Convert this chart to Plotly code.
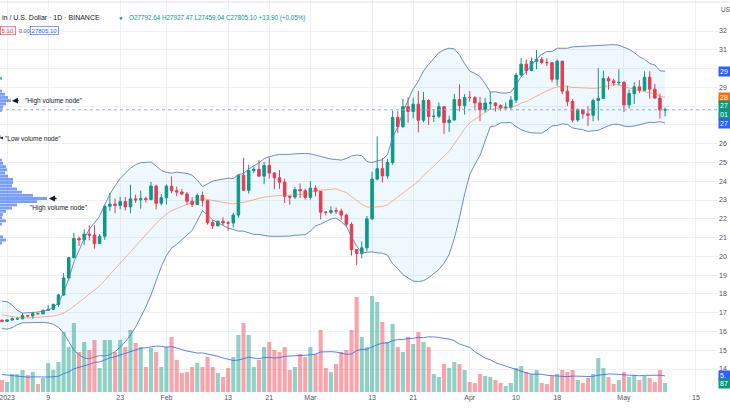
import pandas as pd
import plotly.graph_objects as go

GREEN = "#089981"
RED = "#f23645"
BLUE = "#2962ff"
ORANGE = "#ff6d00"
GRID = "#eef0f5"
TEXT = "#131722"

# daily candles, 2022-12-31 .. 2023-05-09
dates = pd.date_range("2022-12-31", "2023-05-09", freq="D")

open_ = [
    16603,
    16542, 16616, 16673, 16675, 16850, 16831, 16950, 16943, 17127, 17178, 17440, 17943, 18847, 19930, 20955, 20880,
    21185, 21133, 20677, 21072, 22667, 22783, 22707, 22917, 22633, 23061, 23009, 23074, 23027, 23743, 22827,
    23125, 23733, 23492, 23431, 23326, 22932, 22762, 23240, 22963, 21797, 21625, 21862, 21783, 21773, 22199, 24324,
    23517, 24569, 24631, 24271, 24837, 24439, 24188, 23947, 23199, 23157, 23554, 23492,
    23141, 23628, 23465, 22354, 22346, 22430, 22410, 22197, 21705, 20362, 20150, 20455, 21997, 24113, 24670, 24285,
    24998, 27395, 26907, 27972, 27717, 28105, 27250, 28295, 27454, 27462, 27968, 27124, 27261, 28348, 28028,
    28465, 28452, 28171, 27800, 28165, 28170, 28033, 27906, 27938, 28323, 29652, 30235, 29895, 30384, 30485, 30318,
    30316, 29431, 30390, 28796, 28243, 27262, 27816, 27590, 27514, 28300, 28415, 29473, 29340, 29248,
    29268, 28068, 28669, 29026, 28845, 29534, 28904, 28430, 27792.64,
]
high = [
    16628,
    16630, 16760, 16778, 16990, 16884, 17041, 16975, 17176, 17398, 17490, 18000, 19117, 19964, 21258, 21050, 21439,
    21650, 21650, 21190, 22755, 23372, 23078, 23165, 23162, 23816, 23290, 23500, 23180, 23960, 23812, 23320,
    23812, 24255, 23715, 23587, 23433, 23158, 23350, 23452, 23011, 21938, 21906, 22090, 21899, 22322, 24380, 25250,
    24873, 24750, 25121, 25020, 25250, 24476, 24600, 24132, 23218, 23689, 23880, 23600,
    24000, 23780, 23476, 22410, 22662, 22600, 22534, 22270, 21813, 20367, 20800, 22150, 24500, 26386, 25250, 25190,
    27756, 27724, 28390, 28472, 28439, 28804, 28752, 28374, 27787, 28194, 27982, 27499, 28650, 29160, 28640,
    28800, 28530, 28494, 28444, 28775, 28189, 28100, 28180, 28530, 29770, 30550, 30486, 30595, 31000, 30620,
    30550, 30320, 30485, 30412, 29090, 28371, 27877, 27820, 28000, 28400, 30020, 29890, 29590, 29463, 29960,
    29330, 28880, 29270, 29380, 29850, 29850, 29180, 28664, 27927.47,
]
low = [
    16498,
    16500, 16572, 16605, 16650, 16753, 16679, 16908, 16911, 17104, 17142, 17320, 17892, 18708, 19888, 20552, 20610,
    20850, 20407, 20659, 20880, 22422, 22293, 22500, 22462, 22300, 22850, 22534, 22865, 22982, 22500, 22714,
    22760, 23363, 23204, 23253, 22745, 22628, 22745, 22665, 21688, 21451, 21599, 21630, 21352, 21532, 22047, 23505,
    23339, 24430, 24266, 23840, 24150, 23574, 23600, 22841, 22755, 23060, 23105, 23020,
    23020, 23195, 21971, 22180, 22250, 22256, 21927, 21580, 20042, 19549, 19895, 20270, 21918, 24048, 23930, 24123,
    24880, 26578, 26827, 27124, 27350, 26601, 27143, 27000, 27158, 27370, 26508, 26631, 27240, 27720, 27549,
    28239, 27860, 27203, 27662, 27806, 27711, 27766, 27862, 27800, 28170, 29590, 29666, 29880, 29966, 30230,
    30120, 29270, 29090, 28634, 28010, 27125, 27166, 27330, 26942, 27200, 27235, 28375, 28880, 29080, 29100,
    27680, 27870, 28120, 28700, 28800, 28400, 28390, 27341, 27459.04,
]
close = [
    16542,
    16616, 16673, 16675, 16850, 16831, 16950, 16943, 17127, 17178, 17440, 17943, 18847, 19930, 20955, 20880, 21185,
    21133, 20677, 21072, 22667, 22783, 22707, 22917, 22633, 23061, 23009, 23074, 23027, 23743, 22827, 23125,
    23733, 23492, 23431, 23326, 22932, 22762, 23240, 22963, 21797, 21625, 21862, 21783, 21773, 22199, 24324, 23517,
    24569, 24631, 24271, 24837, 24439, 24188, 23947, 23199, 23157, 23554, 23492, 23141,
    23628, 23465, 22354, 22346, 22430, 22410, 22197, 21705, 20362, 20150, 20455, 21997, 24113, 24670, 24285, 24998,
    27395, 26907, 27972, 27717, 28105, 27250, 28295, 27454, 27462, 27968, 27124, 27261, 28348, 28028, 28465,
    28452, 28171, 27800, 28165, 28170, 28033, 27906, 27938, 28323, 29652, 30235, 29895, 30384, 30485, 30318,
    30316, 29431, 30390, 28796, 28243, 27262, 27816, 27590, 27514, 28300, 28415, 29473, 29340, 29248, 29268,
    28068, 28669, 29026, 28845, 29534, 28904, 28430, 27791.2, 27805.10,
]
# volume in thousands
volume = [
    12,
    10, 18, 18, 22, 17, 20, 8, 14, 29, 22, 30, 60, 45, 69, 40, 50, 42, 52, 24, 52, 52, 40, 52, 45, 62, 49, 45,
    25, 44, 40, 25,
    45, 55, 32, 19, 20, 25, 29, 25, 35, 25, 19, 15, 24, 35, 57, 69, 57, 25, 32, 45, 50, 42, 40, 45, 22, 25, 38, 35,
    45, 38, 62, 24, 20, 28, 40, 42, 62, 95, 55, 45, 96, 90, 70, 50, 68, 45, 40, 55, 48, 60, 50, 45, 18, 15, 28,
    24, 30, 28, 22,
    10, 9, 18, 16, 15, 12, 9, 6, 9, 24, 26, 20, 18, 22, 9, 8, 16, 18, 22, 20, 22, 12, 9, 14, 18, 34, 24, 15, 8, 12,
    20, 15, 17, 12, 16, 14, 10, 22, 9,
]
# 19 sessions before the first visible candle, only used to seed the 20-day indicators
warmup_close = [17100, 17780, 17815, 17365, 16630, 16780, 16740, 16440, 16900, 16825,
                16830, 16780, 16840, 16835, 16920, 16710, 16550, 16630, 16605]
warmup_volume = [22, 30, 32, 28, 26, 14, 12, 20, 22, 18, 17, 10, 8, 9, 12, 15, 16, 13, 14]

# visible range volume profile (price row, volume)
vp_price = [29480, 28800, 28630, 28460, 28290, 28120, 27950, 27780, 26360,
            25120, 24950, 24780, 24610, 24440, 24270, 24100, 23930, 23760, 23590, 23420, 23250,
            23080, 22910, 22740, 22570, 22400, 22230, 22060, 21890, 21720, 21040, 20870, 20700]
vp_volume = [2, 2, 5, 8, 11, 6, 3, 2, 1,
             2, 3, 6, 7, 5, 8, 13, 13, 12, 17, 22, 33,
             47, 37, 17, 12, 6, 3, 2, 6, 2, 3, 6, 2]

tick_dates = ["2023-01-01", "2023-01-09", "2023-01-23", "2023-02-01", "2023-02-13", "2023-02-21",
              "2023-03-01", "2023-03-13", "2023-03-21", "2023-04-01", "2023-04-10", "2023-04-18",
              "2023-05-01", "2023-05-15"]
tick_text = ["2023", "9", "23", "Feb", "13", "21", "Mar", "13", "21", "Apr", "10", "18", "May", "15"]
price_ticks = list(range(14000, 33000, 1000))
# the screenshot cuts the price scale after two digits; 27k/28k/30k sit under the value flags
hidden_ticks = {27000, 28000, 30000}
price_text = ["" if v in hidden_ticks else str(v // 1000) for v in price_ticks]

# Bollinger Bands (20, 2) and volume SMA 20
n_warm = len(warmup_close)
closes_all = pd.Series(warmup_close + close)
basis = closes_all.rolling(20).mean()
dev = closes_all.rolling(20).std(ddof=0)
upper = (basis + 2 * dev).iloc[n_warm:].values
lower = (basis - 2 * dev).iloc[n_warm:].values
basis = basis.iloc[n_warm:].values
vol_ma = pd.Series(warmup_volume + volume).rolling(20).mean().iloc[n_warm:].values

PLOT_W, PLOT_H = 718, 392


def py(ypx):
    return (PLOT_H - ypx) / PLOT_H


fig = go.Figure()

vol_colors = ["rgba(8,153,129,0.45)" if c >= o else "rgba(242,54,69,0.45)" for o, c in zip(open_, close)]
fig.add_bar(x=dates, y=volume, yaxis="y2", marker_color=vol_colors, marker_line_width=0,
            width=0.8 * 86400000, hoverinfo="skip")
fig.add_scatter(x=dates, y=vol_ma, yaxis="y2", mode="lines", line=dict(color=BLUE, width=0.8), hoverinfo="skip")

fig.add_scatter(x=dates, y=upper, mode="lines", line=dict(color="#5b7fc7", width=0.9), hoverinfo="skip")
fig.add_scatter(x=dates, y=lower, mode="lines", line=dict(color="#5b7fc7", width=0.9),
                fill="tonexty", fillcolor="rgba(33,150,243,0.07)", hoverinfo="skip")
fig.add_scatter(x=dates, y=basis, mode="lines", line=dict(color="rgba(255,109,0,0.55)", width=0.9),
                hoverinfo="skip")

fig.add_candlestick(
    x=dates, open=open_, high=high, low=low, close=close,
    increasing=dict(line=dict(color=GREEN, width=1), fillcolor=GREEN),
    decreasing=dict(line=dict(color=RED, width=1), fillcolor=RED),
    whiskerwidth=0,
)

fig.add_bar(x=vp_volume, y=vp_price, orientation="h", xaxis="x2", width=150,
            marker_color="rgba(41,98,255,0.62)", marker_line_width=0, hoverinfo="skip")

# last price line
fig.add_shape(type="line", xref="paper", x0=0, x1=1, yref="y", y0=close[-1], y1=close[-1],
              line=dict(color="#9aa9c9", width=1, dash="dot"))
fig.add_shape(type="line", xref="paper", x0=0, x1=1.016, yref="paper", y0=py(2), y1=py(2),
              line=dict(color="#dfe2ea", width=1))

small = dict(family="Liberation Sans", size=6.5, color=TEXT)
# volume node notes
fig.add_annotation(x=12, y=28290, xref="x2", yref="y", ax=20, ay=28290, axref="x2", ayref="y",
                   text="", showarrow=True, arrowhead=2, arrowsize=0.9, arrowwidth=1.3, arrowcolor=TEXT)
fig.add_annotation(x=23, y=28290, xref="x2", yref="y", text='"High volume node"', showarrow=False,
                   xanchor="left", font=small)
fig.add_annotation(x=0, y=26300, xref="x2", yref="y", ax=2.5, ay=26300, axref="x2", ayref="y",
                   text="", showarrow=True, arrowhead=2, arrowsize=0.6, arrowwidth=1, arrowcolor=TEXT)
fig.add_annotation(x=3, y=26300, xref="x2", yref="y", text='"Low volume node"', showarrow=False,
                   xanchor="left", font=small)
fig.add_annotation(x=49, y=23080, xref="x2", yref="y", ax=58, ay=23080, axref="x2", ayref="y",
                   text="", showarrow=True, arrowhead=2, arrowsize=0.9, arrowwidth=1.3, arrowcolor=TEXT)
fig.add_annotation(x=28, y=22550, xref="x2", yref="y", text='"High volume node"', showarrow=False,
                   xanchor="left", font=small)

# header
fig.add_annotation(x=0, y=py(12), xref="paper", yref="paper", xanchor="left", showarrow=False,
                   text="in / U.S. Dollar · 1D · BINANCE", font=dict(family="Liberation Sans", size=7, color=TEXT))
fig.add_annotation(x=117 / PLOT_W, y=py(12), xref="paper", yref="paper", showarrow=False,
                   text="●", font=dict(size=6, color=GREEN))
fig.add_annotation(x=127 / PLOT_W, y=py(12), xref="paper", yref="paper", xanchor="left", showarrow=False,
                   text="O27792.64 H27927.47 L27459.04 C27805.10 +13.90 (+0.05%)",
                   font=dict(family="Liberation Sans", size=6.3, color=GREEN))
fig.add_annotation(x=0, y=py(26), xref="paper", yref="paper", xanchor="left", showarrow=False,
                   text="5.10", bordercolor=RED, borderwidth=0.6, borderpad=1,
                   font=dict(family="Liberation Sans", size=6, color=RED))
fig.add_annotation(x=17 / PLOT_W, y=py(26), xref="paper", yref="paper", xanchor="left", showarrow=False,
                   text="0.00", font=dict(family="Liberation Sans", size=5.5, color="#50535e"))
fig.add_annotation(x=30 / PLOT_W, y=py(26), xref="paper", yref="paper", xanchor="left", showarrow=False,
                   text="27805.10", bordercolor=BLUE, borderwidth=0.6, borderpad=1,
                   font=dict(family="Liberation Sans", size=6, color=BLUE))

# price scale labels, cut by the right edge of the screenshot
fig.add_annotation(x=1, xshift=1, y=py(10), xref="paper", yref="paper", xanchor="left", yanchor="middle",
                   showarrow=False, text="US", font=dict(family="Liberation Sans", size=6.5, color="#50535e"))


def scale_label(y, yref, text, color):
    fig.add_annotation(x=1, xshift=0, y=y, xref="paper", yref=yref, xanchor="left", showarrow=False,
                       text=text, width=9, align="left", bgcolor=color, borderpad=1,
                       font=dict(family="Liberation Sans", size=7, color="white"))


scale_label(upper[-1], "y", f"{int(upper[-1] // 1000)}", BLUE)
scale_label(basis[-1], "y", f"{int(basis[-1] // 1000)}", ORANGE)
scale_label(close[-1], "y", f"{int(close[-1] // 1000)}<br>01", GREEN)
scale_label(lower[-1], "y", f"{int(lower[-1] // 1000)}", BLUE)
scale_label(vol_ma[-1], "y2", "5.", BLUE)
scale_label(volume[-1], "y2", "87", GREEN)

font7 = dict(family="Liberation Sans", size=7, color="#50535e")
fig.update_layout(
    width=730, height=410,
    margin=dict(l=0, r=730 - PLOT_W, t=0, b=410 - PLOT_H, autoexpand=False),
    plot_bgcolor="white", paper_bgcolor="white",
    showlegend=False, hovermode=False,
    xaxis=dict(
        type="date", range=["2022-12-30 15:00", "2023-05-19 07:00"], automargin=False,
        tickvals=tick_dates, ticktext=tick_text, ticks="", ticklabeloverflow="allow",
        showgrid=True, gridcolor=GRID, gridwidth=1, zeroline=False, showline=False,
        rangeslider=dict(visible=False), tickfont=font7,
    ),
    xaxis2=dict(overlaying="x", anchor="y", range=[0, PLOT_W], visible=False, automargin=False),
    yaxis=dict(
        side="right", range=[12777, 33651], automargin=False,
        tickvals=price_ticks, ticktext=price_text, ticks="",
        showgrid=True, gridcolor=GRID, gridwidth=1, zeroline=False, showline=False,
        tickfont=font7,
    ),
    yaxis2=dict(overlaying="y", range=[0, PLOT_H], visible=False, automargin=False),
)

# the page's default 8px body margin would push the 730x410 chart out of the window
fig.write_html("out.html", config={"displayModeBar": False},
               post_script="document.body.style.margin = '0';")
